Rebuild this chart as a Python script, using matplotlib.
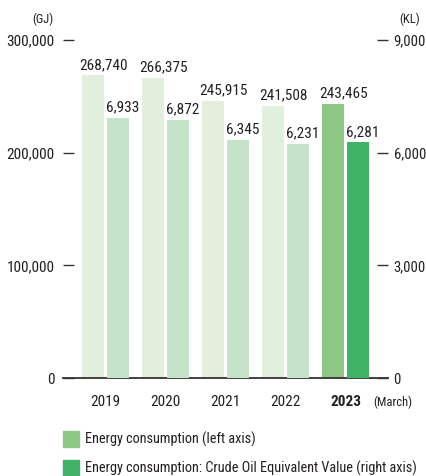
import matplotlib
matplotlib.use("Agg")
import matplotlib.pyplot as plt
from matplotlib.patches import Rectangle

years = ["2019", "2020", "2021", "2022", "2023"]
energy_gj = [268740, 266375, 245915, 241508, 243465]
crude_kl = [6933, 6872, 6345, 6231, 6281]

left_ticks = [0, 100000, 200000, 300000]
right_ticks = [0, 3000, 6000, 9000]

plt.rcParams['font.family'] = ['Roboto Condensed', 'DejaVu Sans']
TXT = "#231f20"
FS = 11

fig = plt.figure(figsize=(4.27, 4.76), dpi=100)
ax = fig.add_axes([63 / 427, 98 / 476, 325 / 427, 338 / 476])
ax2 = ax.twinx()

x = list(range(len(years)))
w = 22 / 60
off = 12.5 / 60
light_l = ["#e2efdc"] * 4 + ["#8cc784"]
light_r = ["#c5e3c8"] * 4 + ["#3fb265"]

ax.bar([i - off for i in x], energy_gj, width=w, color=light_l, zorder=2)
ax2.bar([i + off for i in x], crude_kl, width=w, color=light_r, zorder=2)

# value labels sit left-aligned on the bar's left edge
for i in x:
    ax.annotate(f"{energy_gj[i]:,}", (i - off - w / 2, energy_gj[i]), xytext=(-2, 4.5),
                textcoords="offset points", ha="left", va="baseline", fontsize=FS, color=TXT)
    ax2.annotate(f"{crude_kl[i]:,}", (i + off - w / 2, crude_kl[i]), xytext=(-1, 4.5),
                 textcoords="offset points", ha="left", va="baseline", fontsize=FS, color=TXT)

ax.set_xlim(-0.708, 4.708)
ax.set_ylim(0, 300000)
ax2.set_ylim(0, 9000)

for a in (ax, ax2):
    for s in a.spines.values():
        s.set_visible(False)
ax.axhline(0, color="#333333", lw=1.3, zorder=3, clip_on=False)

ax.set_yticks(left_ticks)
ax.set_yticklabels([f"{v:,}" for v in left_ticks])
ax2.set_yticks(right_ticks)
ax2.set_yticklabels([f"{v:,}" for v in right_ticks])
ax.tick_params(axis="y", direction="in", length=8, width=1, color="#333333", pad=6,
               labelsize=FS, labelcolor=TXT)
ax2.tick_params(axis="y", direction="in", length=8, width=1, color="#333333", pad=4,
                labelsize=10.6, labelcolor=TXT)

ax.set_xticks(x)
ax.set_xticklabels(years)
ax.tick_params(axis="x", length=0, pad=12, labelsize=FS, labelcolor=TXT)
ax.get_xticklabels()[-1].set_fontweight("bold")

fig.text(43 / 427, 1 - 19 / 476, "(GJ)", ha="center", va="center", fontsize=9, color=TXT)
fig.text(410 / 427, 1 - 19 / 476, "(KL)", ha="center", va="center", fontsize=9, color=TXT)
fig.text(393 / 427, 1 - 402 / 476, "(March)", ha="center", va="center", fontsize=9, color=TXT)

# legend
legend_items = [("Energy consumption (left axis)", "#8cc784", 439),
                ("Energy consumption: Crude Oil Equivalent Value (right axis)", "#3fb265", 468)]
for label, col, yc in legend_items:
    fig.patches.append(Rectangle((63 / 427, 1 - (yc + 8) / 476), 16 / 427, 16 / 476,
                                 transform=fig.transFigure, color=col))
    fig.text(85 / 427, 1 - yc / 476, label, ha="left", va="center", fontsize=10.3, color=TXT)

fig.savefig("out.png", dpi=100)
